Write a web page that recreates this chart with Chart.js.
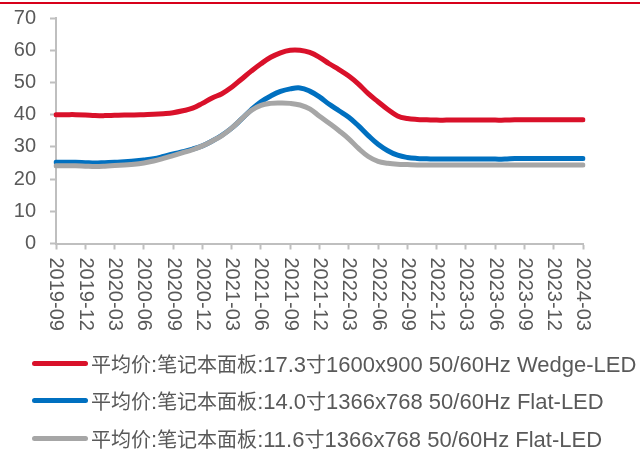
<!DOCTYPE html>
<html>
<head>
<meta charset="utf-8">
<script src="https://cdn.jsdelivr.net/npm/chart.js@4/dist/chart.umd.min.js"></script>
<style>
  body { margin: 0; background: #fff; }
  #wrap { position: relative; width: 640px; height: 454px; overflow: hidden; }
  #topline { position: absolute; left: 0; top: 2px; width: 640px; height: 2px; background: #d7001a; }
  #box { position: absolute; left: 0; top: -8px; width: 640px; height: 358px; }
  #legend { position: absolute; left: 32px; top: 345px; }
  .row { height: 37.3px; display: flex; align-items: center; white-space: nowrap;
         font-family: "Liberation Sans", Arial, "Noto Sans CJK SC", sans-serif; font-size: 22px; color: #595959; }
  .mark { width: 56px; height: 5px; border-radius: 3px; margin-right: 3px; }
  .cjk { font-family: "Noto Sans CJK SC", sans-serif; font-size: 20px; }
</style>
</head>
<body>
<div id="wrap">
  <div id="topline"></div>
  <div id="box"><canvas id="myChart"></canvas></div>
  <div id="legend"></div>
</div>
<script>
// 월별 라벨 (2019-09 ~ 2024-03)
var months = [
  "2019-09", "2019-10", "2019-11", "2019-12", "2020-01", "2020-02", "2020-03",
  "2020-04", "2020-05", "2020-06", "2020-07", "2020-08", "2020-09", "2020-10",
  "2020-11", "2020-12", "2021-01", "2021-02", "2021-03", "2021-04", "2021-05",
  "2021-06", "2021-07", "2021-08", "2021-09", "2021-10", "2021-11", "2021-12",
  "2022-01", "2022-02", "2022-03", "2022-04", "2022-05", "2022-06", "2022-07",
  "2022-08", "2022-09", "2022-10", "2022-11", "2022-12", "2023-01", "2023-02",
  "2023-03", "2023-04", "2023-05", "2023-06", "2023-07", "2023-08", "2023-09",
  "2023-10", "2023-11", "2023-12", "2024-01", "2024-02", "2024-03"
];

var names = [
  "平均价:笔记本面板:17.3寸1600x900 50/60Hz Wedge-LED",
  "平均价:笔记本面板:14.0寸1366x768 50/60Hz Flat-LED",
  "平均价:笔记本面板:11.6寸1366x768 50/60Hz Flat-LED"
];
var colors = ["#d9112a", "#0070c0", "#a6a6a6"];

var panel173 = [
  40.0, 40.0, 40.0, 39.9, 39.7, 39.7, 39.8, 39.9, 39.9, 40.0, 40.1, 40.3, 40.6, 41.2,
  42.0, 43.5, 45.2, 46.5, 48.5, 51.0, 53.5, 55.8, 57.8, 59.2, 60.0, 60.0, 59.3, 57.8,
  55.8, 54.0, 52.0, 49.5, 46.5, 44.0, 41.6, 39.6, 38.8, 38.5, 38.4, 38.3, 38.3, 38.3,
  38.3, 38.3, 38.3, 38.3, 38.3, 38.4, 38.4, 38.4, 38.4, 38.4, 38.4, 38.4, 38.4
];
var panel140 = [
  25.2, 25.2, 25.2, 25.1, 25.0, 25.1, 25.2, 25.4, 25.6, 25.9, 26.3, 27.0, 27.8, 28.5,
  29.3, 30.3, 31.8, 33.6, 35.8, 38.6, 41.5, 44.0, 45.8, 47.2, 48.0, 48.3, 47.3, 45.5,
  43.2, 41.2, 39.2, 36.5, 33.5, 30.8, 28.8, 27.4, 26.7, 26.4, 26.3, 26.2, 26.2, 26.2,
  26.2, 26.2, 26.2, 26.2, 26.2, 26.4, 26.4, 26.4, 26.4, 26.4, 26.4, 26.4, 26.4
];
var panel116 = [
  24.1, 24.1, 24.1, 24.0, 23.9, 24.0, 24.2, 24.4, 24.6, 25.0, 25.6, 26.4, 27.3, 28.2,
  29.1, 30.3, 31.8, 33.5, 35.8, 38.6, 41.3, 42.9, 43.5, 43.6, 43.5, 43.0, 41.8, 39.5,
  37.3, 35.0, 32.5, 29.5, 27.0, 25.5, 24.9, 24.6, 24.5, 24.4, 24.4, 24.4, 24.4, 24.4,
  24.4, 24.4, 24.4, 24.4, 24.4, 24.4, 24.4, 24.4, 24.4, 24.4, 24.4, 24.4, 24.4
];

var textColor = "#595959";
var axisColor = "#bfbfbf";

// 범례 (HTML)
var legend = document.getElementById("legend");
for (var i = 0; i < names.length; i++) {
  var row = document.createElement("div");
  row.className = "row";
  var mark = document.createElement("span");
  mark.className = "mark";
  mark.style.background = colors[i];
  row.appendChild(mark);
  var txt = document.createElement("span");
  txt.innerHTML = names[i].replace(/([\u4e00-\u9fff]+)/g, '<span class="cjk">$1</span>');
  row.appendChild(txt);
  legend.appendChild(row);
}

// x축 라벨을 위에서 아래로 세로로 그리기
var verticalLabels = {
  id: "verticalLabels",
  afterDraw: function (chart) {
    var scale = chart.scales.x;
    var ctx = chart.ctx;
    ctx.save();
    ctx.fillStyle = textColor;
    ctx.font = '20px "Liberation Sans", Arial, sans-serif';
    ctx.textAlign = "left";
    ctx.textBaseline = "middle";
    for (var i = 0; i < months.length; i += 3) {
      var x = scale.getPixelForTick(i);
      ctx.save();
      ctx.translate(x, scale.top + 14);
      ctx.rotate(Math.PI / 2);
      ctx.fillText(months[i], 0, 0);
      ctx.restore();
    }
    ctx.restore();
  },
};

var ctx = document.getElementById("myChart").getContext("2d");
var chart = new Chart(ctx, {
  type: "line",
  data: {
    labels: months,
    datasets: [
      { label: names[0], data: panel173, borderColor: colors[0], order: 2 },
      { label: names[1], data: panel140, borderColor: colors[1], order: 1 },
      { label: names[2], data: panel116, borderColor: colors[2], order: 0 },
    ],
  },
  options: {
    responsive: true,
    maintainAspectRatio: false,
    animation: false,
    layout: { padding: { top: 7, right: 57, left: 0, bottom: 0 } },
    elements: {
      line: { borderWidth: 5, tension: 0.4, borderCapStyle: "round", fill: false },
      point: { radius: 0 },
    },
    plugins: { legend: { display: false }, tooltip: { enabled: false } },
    scales: {
      x: {
        offset: false,
        afterFit: function (scale) { scale.height = 106.5; },
        border: { color: axisColor, width: 2 },
        grid: {
          drawOnChartArea: false,
          tickLength: 6,
          tickColor: function (c) { return c.index % 3 === 0 ? axisColor : "rgba(0,0,0,0)"; },
          tickWidth: 2,
        },
        ticks: { autoSkip: false, color: "rgba(0,0,0,0)", maxRotation: 0, font: { size: 1 } },
      },
      y: {
        min: 0,
        max: 70,
        afterFit: function (scale) { scale.width = 56; },
        border: { color: axisColor, width: 2 },
        grid: { drawOnChartArea: false, tickLength: 6, tickColor: axisColor, tickWidth: 2 },
        ticks: {
          stepSize: 10,
          padding: 14,
          color: textColor,
          font: { family: '"Liberation Sans", Arial, sans-serif', size: 20 },
        },
      },
    },
  },
  plugins: [verticalLabels],
});
</script>
</body>
</html>
